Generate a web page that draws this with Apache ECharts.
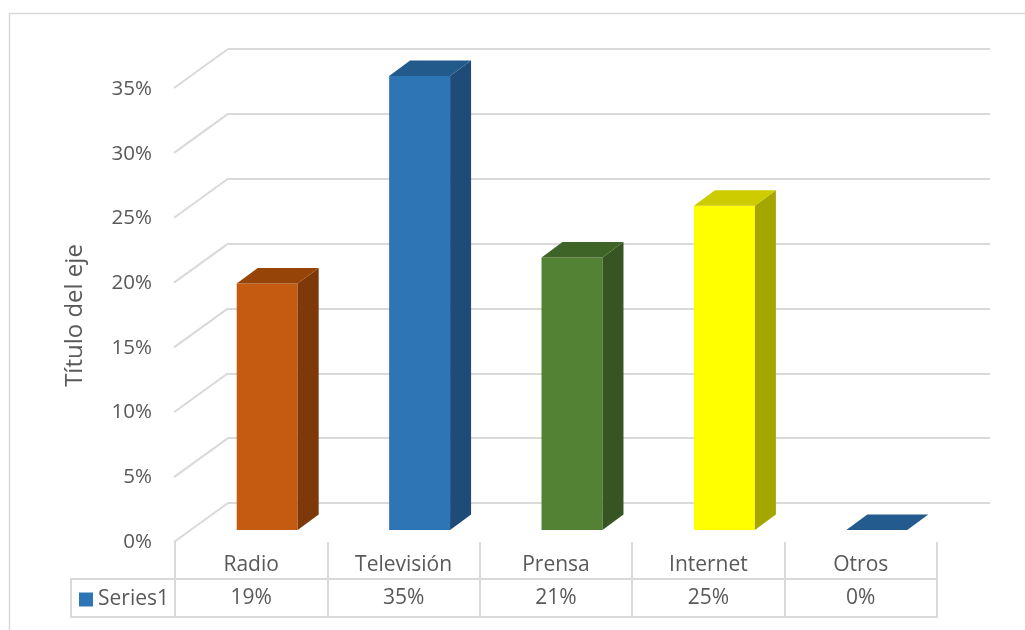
<!DOCTYPE html>
<html>
<head>
<meta charset="utf-8">
<script src="https://cdn.jsdelivr.net/npm/echarts@6/dist/echarts.min.js"></script>
<style>
  html, body { margin: 0; padding: 0; background: #ffffff; }
  #chart { width: 1025px; height: 630px; }
</style>
</head>
<body>
<div id="chart"></div>
<script>
// Medios de comunicación: share per medium (percent)
const categories = ['Radio', 'Televisión', 'Prensa', 'Internet', 'Otros'];
const values = [19, 35, 21, 25, 0];
const yTicks = [0, 5, 10, 15, 20, 25, 30, 35];
const seriesName = 'Series1';
const axisTitle = 'Título del eje';

// Face colours for each column: front, top, side
const faceColors = [
  { front: '#C55A11', top: '#974409', side: '#7E390A' },
  { front: '#2E75B6', top: '#235A8C', side: '#1F4B78' },
  { front: '#548235', top: '#3F6428', side: '#365522' },
  { front: '#FFFF00', top: '#CCCC00', side: '#A6A600' },
  { front: '#2E75B6', top: '#245B8E', side: '#1F4B78' }
];

const TEXT = '#595959';
const LINE = '#D9D9D9';
const FONT = '"Open Sans", "Liberation Sans", sans-serif';

// Depth of the floor/side wall and of each column (screen offsets)
const WALL_DX = 54, WALL_DY = 39;
const BOX_DX = 21, BOX_DY = 15.5;

const chart = echarts.init(document.getElementById('chart'), null, { renderer: 'canvas' });

function renderBox(params, api) {
  const idx = api.value(0);
  const top = api.coord([idx, api.value(1)]);
  const base = api.coord([idx, 0]);
  const w = api.size([1, 0])[0] * 0.4;
  const x0 = top[0] - w / 2, x1 = top[0] + w / 2;
  const yt = top[1], yb = base[1];
  const c = faceColors[idx];
  const children = [];
  if (yb - yt > 0.5) {
    children.push({
      type: 'rect',
      shape: { x: x0, y: yt, width: w, height: yb - yt },
      style: { fill: c.front }
    });
    children.push({
      type: 'polygon',
      shape: { points: [[x1, yt], [x1 + BOX_DX, yt - BOX_DY], [x1 + BOX_DX, yb - BOX_DY], [x1, yb]] },
      style: { fill: c.side }
    });
  }
  children.push({
    type: 'polygon',
    shape: { points: [[x0, yt], [x1, yt], [x1 + BOX_DX, yt - BOX_DY], [x0 + BOX_DX, yt - BOX_DY]] },
    style: { fill: c.top }
  });
  return { type: 'group', children: children };
}

function renderWallLine(params, api) {
  const p = api.coord([0, api.value(1)]);
  return {
    type: 'line',
    shape: { x1: p[0] - WALL_DX, y1: p[1] + WALL_DY, x2: p[0], y2: p[1] },
    style: { stroke: LINE, lineWidth: 2 }
  };
}

const option = {
  animation: false,
  backgroundColor: '#ffffff',
  textStyle: { fontFamily: FONT },
  grid: [
    // column plane
    { left: 191, top: 76, width: 762, height: 454 },
    // back wall
    { left: 228, top: 49, width: 762, height: 454 },
    // front edge: value labels and data table
    { left: 175, top: 89, width: 762, height: 453 }
  ],
  xAxis: [
    { gridIndex: 0, type: 'category', data: categories, show: false },
    { gridIndex: 1, type: 'value', min: 0, max: 1, show: false },
    {
      gridIndex: 2, type: 'category', data: categories, position: 'bottom',
      axisLine: { show: false },
      axisTick: { show: true, length: 75, inside: false, lineStyle: { color: LINE, width: 2 } },
      axisLabel: { margin: 23, verticalAlign: 'middle', color: TEXT, fontSize: 21, fontFamily: FONT },
      splitLine: { show: false }
    },
    {
      gridIndex: 2, type: 'category', data: categories, position: 'bottom',
      axisLine: { show: false }, axisTick: { show: false },
      axisLabel: {
        margin: 56, verticalAlign: 'middle', color: TEXT, fontSize: 21, fontFamily: FONT,
        formatter: function (v, i) { return values[i] + '%'; }
      }
    }
  ],
  yAxis: [
    { gridIndex: 0, type: 'value', min: 0, max: 35, show: false },
    {
      gridIndex: 1, type: 'value', min: 0, max: 35, interval: 5,
      axisLine: { show: false }, axisTick: { show: false }, axisLabel: { show: false },
      splitLine: { show: true, lineStyle: { color: LINE, width: 2 } }
    },
    {
      gridIndex: 2, type: 'value', min: 0, max: 35, interval: 5,
      name: axisTitle, nameLocation: 'middle', nameGap: 88, nameRotate: 90,
      nameTextStyle: { color: TEXT, fontSize: 24, fontFamily: FONT },
      axisLine: { show: false }, axisTick: { show: false },
      splitLine: { show: false },
      axisLabel: {
        margin: 23, color: TEXT, fontSize: 20.5, fontFamily: FONT,
        formatter: function (v) { return v + '%'; }
      }
    }
  ],
  legend: {
    left: 79, top: 589, padding: 0,
    icon: 'rect', itemWidth: 14, itemHeight: 14,
    textStyle: { color: TEXT, fontSize: 21, fontFamily: FONT },
    data: [seriesName]
  },
  series: [
    {
      name: 'wall',
      type: 'custom',
      xAxisIndex: 1, yAxisIndex: 1,
      data: yTicks.map(function (v) { return [0, v]; }),
      renderItem: renderWallLine,
      silent: true, z: 1
    },
    {
      name: seriesName,
      type: 'custom',
      xAxisIndex: 0, yAxisIndex: 0,
      itemStyle: { color: '#2E75B6' },
      data: values.map(function (v, i) { return [i, v]; }),
      renderItem: renderBox,
      clip: false, z: 5
    }
  ],
  graphic: [
    // chart area border
    { type: 'rect', shape: { x: 9.5, y: 13.5, width: 1100, height: 700 },
      style: { fill: 'none', stroke: LINE, lineWidth: 1.5 }, silent: true },
    // data table rules
    { type: 'line', shape: { x1: 70, y1: 579, x2: 938, y2: 579 }, style: { stroke: LINE, lineWidth: 2 } },
    { type: 'line', shape: { x1: 70, y1: 617, x2: 938, y2: 617 }, style: { stroke: LINE, lineWidth: 2 } },
    { type: 'line', shape: { x1: 71, y1: 578, x2: 71, y2: 618 }, style: { stroke: LINE, lineWidth: 2 } }
  ]
};

chart.setOption(option);
</script>
</body>
</html>
